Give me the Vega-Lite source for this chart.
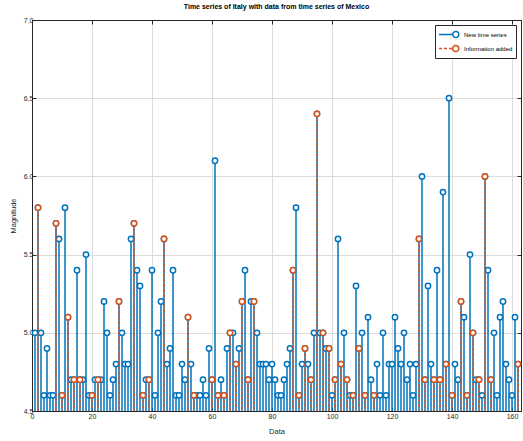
{
  "$schema": "https://vega.github.io/schema/vega-lite/v6.json",
  "width": 489,
  "height": 391,
  "autosize": "none",
  "padding": {"left": 32, "top": 20, "right": 2, "bottom": 30},
  "background": "white",
  "title": {"text": "Time series of Italy with data from time series of Mexico", "fontSize": 7, "fontWeight": "bold", "font": "Liberation Sans", "color": "black", "offset": 6, "anchor": "middle"},
  "config": {
    "view": {"stroke": "#262626", "strokeWidth": 1},
    "axis": {"labelFont": "Liberation Sans", "labelFontSize": 7, "labelColor": "#262626", "titleFont": "Liberation Sans", "titleFontSize": 7.5, "titleFontWeight": "normal", "titleColor": "#262626", "gridColor": "#dcdcdc", "gridWidth": 1, "domainColor": "#262626", "tickColor": "#262626", "tickSize": -4, "domain": true}
  },
  "datasets": {
    "nts": [
      {"t":1,"v":5.0},{"t":2,"v":5.8},{"t":3,"v":5.0},{"t":4,"v":4.6},{"t":5,"v":4.9},{"t":6,"v":4.6},{"t":7,"v":4.6},{"t":8,"v":5.7},{"t":9,"v":5.6},{"t":10,"v":4.6},
      {"t":11,"v":5.8},{"t":12,"v":5.1},{"t":13,"v":4.7},{"t":14,"v":4.7},{"t":15,"v":5.4},{"t":16,"v":4.7},{"t":17,"v":4.7},{"t":18,"v":5.5},{"t":19,"v":4.6},{"t":20,"v":4.6},
      {"t":21,"v":4.7},{"t":22,"v":4.7},{"t":23,"v":4.7},{"t":24,"v":5.2},{"t":25,"v":5.0},{"t":26,"v":4.6},{"t":27,"v":4.7},{"t":28,"v":4.8},{"t":29,"v":5.2},{"t":30,"v":5.0},
      {"t":31,"v":4.8},{"t":32,"v":4.8},{"t":33,"v":5.6},{"t":34,"v":5.7},{"t":35,"v":5.4},{"t":36,"v":5.3},{"t":37,"v":4.6},{"t":38,"v":4.7},{"t":39,"v":4.7},{"t":40,"v":5.4},
      {"t":41,"v":4.6},{"t":42,"v":5.0},{"t":43,"v":5.2},{"t":44,"v":5.6},{"t":45,"v":4.8},{"t":46,"v":4.9},{"t":47,"v":5.4},{"t":48,"v":4.6},{"t":49,"v":4.6},{"t":50,"v":4.8},
      {"t":51,"v":4.7},{"t":52,"v":5.1},{"t":53,"v":4.8},{"t":54,"v":4.6},{"t":55,"v":4.6},{"t":56,"v":4.6},{"t":57,"v":4.7},{"t":58,"v":4.6},{"t":59,"v":4.9},{"t":60,"v":4.7},
      {"t":61,"v":6.1},{"t":62,"v":4.6},{"t":63,"v":4.7},{"t":64,"v":4.6},{"t":65,"v":4.9},{"t":66,"v":5.0},{"t":67,"v":5.0},{"t":68,"v":4.8},{"t":69,"v":4.9},{"t":70,"v":5.2},
      {"t":71,"v":5.4},{"t":72,"v":4.7},{"t":73,"v":5.2},{"t":74,"v":5.2},{"t":75,"v":5.0},{"t":76,"v":4.8},{"t":77,"v":4.8},{"t":78,"v":4.8},{"t":79,"v":4.7},{"t":80,"v":4.8},
      {"t":81,"v":4.7},{"t":82,"v":4.6},{"t":83,"v":4.6},{"t":84,"v":4.7},{"t":85,"v":4.8},{"t":86,"v":4.9},{"t":87,"v":5.4},{"t":88,"v":5.8},{"t":89,"v":4.6},{"t":90,"v":4.8},
      {"t":91,"v":4.9},{"t":92,"v":4.8},{"t":93,"v":4.7},{"t":94,"v":5.0},{"t":95,"v":6.4},{"t":96,"v":5.0},{"t":97,"v":5.0},{"t":98,"v":4.9},{"t":99,"v":4.9},{"t":100,"v":4.6},
      {"t":101,"v":4.7},{"t":102,"v":5.6},{"t":103,"v":4.8},{"t":104,"v":5.0},{"t":105,"v":4.7},{"t":106,"v":4.6},{"t":107,"v":4.6},{"t":108,"v":5.3},{"t":109,"v":4.9},{"t":110,"v":5.0},
      {"t":111,"v":4.6},{"t":112,"v":5.1},{"t":113,"v":4.7},{"t":114,"v":4.6},{"t":115,"v":4.8},{"t":116,"v":4.6},{"t":117,"v":5.0},{"t":118,"v":4.6},{"t":119,"v":4.8},{"t":120,"v":4.8},
      {"t":121,"v":5.1},{"t":122,"v":4.9},{"t":123,"v":4.8},{"t":124,"v":5.0},{"t":125,"v":4.7},{"t":126,"v":4.8},{"t":127,"v":4.6},{"t":128,"v":4.8},{"t":129,"v":5.6},{"t":130,"v":6.0},
      {"t":131,"v":4.7},{"t":132,"v":5.3},{"t":133,"v":4.8},{"t":134,"v":4.7},{"t":135,"v":5.4},{"t":136,"v":4.7},{"t":137,"v":5.9},{"t":138,"v":4.8},{"t":139,"v":6.5},{"t":140,"v":4.6},
      {"t":141,"v":4.8},{"t":142,"v":4.7},{"t":143,"v":5.2},{"t":144,"v":5.1},{"t":145,"v":4.6},{"t":146,"v":5.5},{"t":147,"v":5.0},{"t":148,"v":4.7},{"t":149,"v":4.7},{"t":150,"v":4.6},
      {"t":151,"v":6.0},{"t":152,"v":5.4},{"t":153,"v":4.7},{"t":154,"v":5.0},{"t":155,"v":4.6},{"t":156,"v":5.1},{"t":157,"v":5.2},{"t":158,"v":4.8},{"t":159,"v":4.7},{"t":160,"v":4.6},
      {"t":161,"v":5.1},{"t":162,"v":4.8}
    ],
    "add": [
      {"t":2,"v":5.8},{"t":8,"v":5.7},{"t":10,"v":4.6},{"t":12,"v":5.1},{"t":14,"v":4.7},{"t":16,"v":4.7},{"t":20,"v":4.6},{"t":22,"v":4.7},{"t":29,"v":5.2},{"t":34,"v":5.7},
      {"t":37,"v":4.6},{"t":39,"v":4.7},{"t":44,"v":5.6},{"t":52,"v":5.1},{"t":54,"v":4.6},{"t":60,"v":4.7},{"t":62,"v":4.6},{"t":64,"v":4.6},{"t":66,"v":5.0},{"t":68,"v":4.8},
      {"t":70,"v":5.2},{"t":72,"v":4.7},{"t":74,"v":5.2},{"t":87,"v":5.4},{"t":89,"v":4.6},{"t":91,"v":4.9},{"t":93,"v":4.7},{"t":95,"v":6.4},{"t":97,"v":5.0},{"t":99,"v":4.9},
      {"t":101,"v":4.7},{"t":103,"v":4.8},{"t":105,"v":4.7},{"t":107,"v":4.6},{"t":109,"v":4.9},{"t":111,"v":4.6},{"t":114,"v":4.6},{"t":129,"v":5.6},{"t":131,"v":4.7},{"t":134,"v":4.7},
      {"t":136,"v":4.7},{"t":138,"v":4.8},{"t":140,"v":4.6},{"t":143,"v":5.2},{"t":145,"v":4.6},{"t":147,"v":5.0},{"t":149,"v":4.7},{"t":151,"v":6.0},{"t":153,"v":4.7},{"t":162,"v":4.8}
    ]
  },
  "layer": [
    {
      "encoding": {
        "x": {"field": "t", "type": "quantitative", "scale": {"domain": [0, 163], "nice": false}, "axis": {"title": "Data", "values": [0,20,40,60,80,100,120,140,160], "labelPadding": 5, "titlePadding": 8, "labelFlush": false}},
        "y": {"field": "v", "type": "quantitative", "scale": {"domain": [4.5, 7], "nice": false, "zero": false}, "axis": {"title": "Magnitude", "values": [4.5,5,5.5,6,6.5,7], "labelPadding": 3, "titlePadding": 6, "labelFlush": false}}
      },
      "layer": [
        {
          "data": {"name": "nts"},
          "mark": {"type": "rule", "strokeWidth": 1.5},
          "encoding": {
            "y2": {"datum": 4.5},
            "color": {"datum": "New time series", "type": "nominal", "scale": {"domain": ["New time series", "Information added"], "range": ["#0072BD", "#D95319"]},
              "legend": {"title": null, "orient": "top-right", "offset": 5, "strokeColor": "#262626", "fillColor": "white", "padding": 3, "labelFont": "Liberation Sans", "labelFontSize": 6, "labelColor": "black", "rowPadding": 1, "labelOffset": 13,
                "symbolType": "M-1,0H1.5A0.55,0.55,0,1,1,2.6,0A0.55,0.55,0,1,1,1.5,0", "symbolSize": 121, "symbolStrokeWidth": 1.5, "symbolFillColor": "white",
                "encode": {"symbols": {"update": {"strokeDash": {"signal": "datum.value === 'Information added' ? [3, 2, 3, 2, 40, 1] : [1, 0]"}, "fill": {"value": "white"}}}}}}
          }
        },
        {
          "data": {"name": "nts"},
          "mark": {"type": "point", "shape": "circle", "filled": false, "fill": "white", "fillOpacity": 1, "size": 28, "strokeWidth": 1.5, "opacity": 1},
          "encoding": {"color": {"datum": "New time series", "type": "nominal"}}
        },
        {
          "data": {"name": "add"},
          "mark": {"type": "rule", "strokeWidth": 1.5, "strokeDash": [3, 2]},
          "encoding": {"y2": {"datum": 4.5}, "color": {"datum": "Information added", "type": "nominal"}}
        },
        {
          "data": {"name": "add"},
          "mark": {"type": "point", "shape": "circle", "filled": false, "fill": "white", "fillOpacity": 1, "size": 28, "strokeWidth": 1.5, "opacity": 1},
          "encoding": {"color": {"datum": "Information added", "type": "nominal"}}
        }
      ]
    },
    {
      "data": {"name": "add"},
      "mark": {"type": "point", "opacity": 0},
      "encoding": {
        "x": {"field": "t", "type": "quantitative", "scale": {"domain": [0, 163], "nice": false}, "axis": {"orient": "top", "labels": false, "grid": false, "title": null, "values": [0,20,40,60,80,100,120,140,160]}},
        "y": {"field": "v", "type": "quantitative", "scale": {"domain": [4.5, 7], "nice": false, "zero": false}, "axis": {"orient": "right", "labels": false, "grid": false, "title": null, "values": [4.5,5,5.5,6,6.5,7]}}
      }
    }
  ],
  "resolve": {"axis": {"x": "independent", "y": "independent"}}
}
